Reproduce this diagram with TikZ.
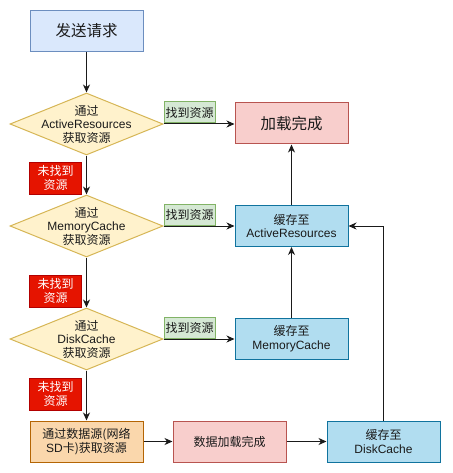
\documentclass[tikz,border=0pt]{standalone}
\usepackage{fontspec}
\setmainfont{Liberation Sans}
\newfontfamily\cjk{Noto Sans CJK SC}
\usetikzlibrary{%
  arrows.meta,%
  shapes.geometric,% wg. diamond
  positioning%
}
\newcommand{\zh}[1]{{\cjk #1}}
\definecolor{reqfill}{HTML}{DAE8FC}\definecolor{reqline}{HTML}{6C8EBF}
\definecolor{askfill}{HTML}{FFF2CC}\definecolor{askline}{HTML}{D6B656}
\definecolor{hitfill}{HTML}{D5E8D4}\definecolor{hitline}{HTML}{82B366}
\definecolor{donefill}{HTML}{F8CECC}\definecolor{doneline}{HTML}{B85450}
\definecolor{missfill}{HTML}{E51400}\definecolor{missline}{HTML}{B20000}
\definecolor{savefill}{HTML}{B1DDF0}\definecolor{saveline}{HTML}{10739E}
\definecolor{srcfill}{HTML}{FAD7AC}\definecolor{srcline}{HTML}{B46504}
\definecolor{ink}{HTML}{1A1A1A}
\tikzset{
  box/.style={rectangle, draw, line width=1pt, minimum width=113pt,
    minimum height=41pt, inner sep=0pt, align=center, text=ink,
    font=\fontsize{12}{13.5}\selectfont},
  bigbox/.style={box, font=\fontsize{15.5}{18}\selectfont},
  ask/.style={diamond, draw=askline, fill=askfill, line width=1pt,
    minimum width=153pt, minimum height=62pt, inner sep=0pt},
  asktext/.style={align=center, text=ink, inner sep=0pt,
    font=\fontsize{12}{13.5}\selectfont},
  hit/.style={rectangle, draw=hitline, fill=hitfill, line width=1pt,
    minimum height=21pt, minimum width=51pt, inner sep=0pt, text=ink,
    font=\fontsize{12}{13.5}\selectfont},
  miss/.style={rectangle, draw=missline, fill=missfill, line width=1pt,
    minimum height=32pt, minimum width=52pt, inner sep=0pt, align=center,
    text=white, font=\fontsize{12}{14}\selectfont},
  flow/.style={line width=1pt, draw=ink,
    -{Stealth[length=8pt,width=7pt,inset=2.5pt]}}
}
\begin{document}
\begin{tikzpicture}[x=1pt,y=-1pt]
\useasboundingbox (0,0) rectangle (452,473);
% left column
\node[bigbox, fill=reqfill, draw=reqline] (req) at (86.5,31) {\zh{发送请求}};
\node[ask, label={[asktext]center:\zh{通过}\\ActiveResources\\\zh{获取资源}}]
     (askAR) at (86.5,124) {};
\node[ask, label={[asktext]center:\zh{通过}\\MemoryCache\\\zh{获取资源}}]
     (askMC) at (86.5,226) {};
\node[ask, label={[asktext]center:\zh{通过}\\DiskCache\\\zh{获取资源}}]
     (askDC) at (86.5,339) {};
\node[box, fill=srcfill, draw=srcline] (src) at (86.5,441.5)
     {\zh{通过数据源(网络}\\SD\zh{卡)获取资源}};
% right side
\node[bigbox, fill=donefill, draw=doneline] (done) at (291.5,123.5) {\zh{加载完成}};
\node[box, fill=savefill, draw=saveline] (saveAR) at (291.5,226)
     {\zh{缓存至}\\ActiveResources};
\node[box, fill=savefill, draw=saveline] (saveMC) at (291.5,338.5)
     {\zh{缓存至}\\MemoryCache};
\node[box, fill=donefill, draw=doneline] (loaded) at (229.5,441.5)
     {\zh{数据加载完成}};
\node[box, fill=savefill, draw=saveline] (saveDC) at (383.5,441.5)
     {\zh{缓存至}\\DiskCache};
% connectors
\draw[flow] (req) -- (askAR);
\draw[flow] (askAR) -- (askMC);
\draw[flow] (askMC) -- (askDC);
\draw[flow] (askDC) -- (src);
\draw[flow] (askAR.east) -- (askAR.east -| done.west);
\draw[flow] (askMC.east) -- (saveAR.west);
\draw[flow] (askDC.east) -- (askDC.east -| saveMC.west);
\draw[flow] (src) -- (loaded);
\draw[flow] (loaded) -- (saveDC);
\draw[flow] (saveDC.north) |- (saveAR.east);
\draw[flow] (saveMC) -- (saveAR);
\draw[flow] (saveAR) -- (done);
% labels
\node[hit, anchor=south west] (hitAR) at ([yshift=0.5pt]askAR.east) {\zh{找到资源}};
\node[hit, anchor=south west] (hitMC) at ([yshift=0.5pt]askMC.east) {\zh{找到资源}};
\node[hit, anchor=south west] (hitDC) at ([yshift=0.5pt]askDC.east) {\zh{找到资源}};
\node[miss, anchor=south east] (missAR) at ([xshift=-4.5pt]askMC.north)
     {\zh{未找到}\\\zh{资源}};
\node[miss, anchor=south east] (missMC) at ([xshift=-4.5pt]askDC.north)
     {\zh{未找到}\\\zh{资源}};
\node[miss, anchor=south east] (missDC) at ([xshift=-4.5pt,yshift=10pt]src.north)
     {\zh{未找到}\\\zh{资源}};
\end{tikzpicture}
\end{document}
